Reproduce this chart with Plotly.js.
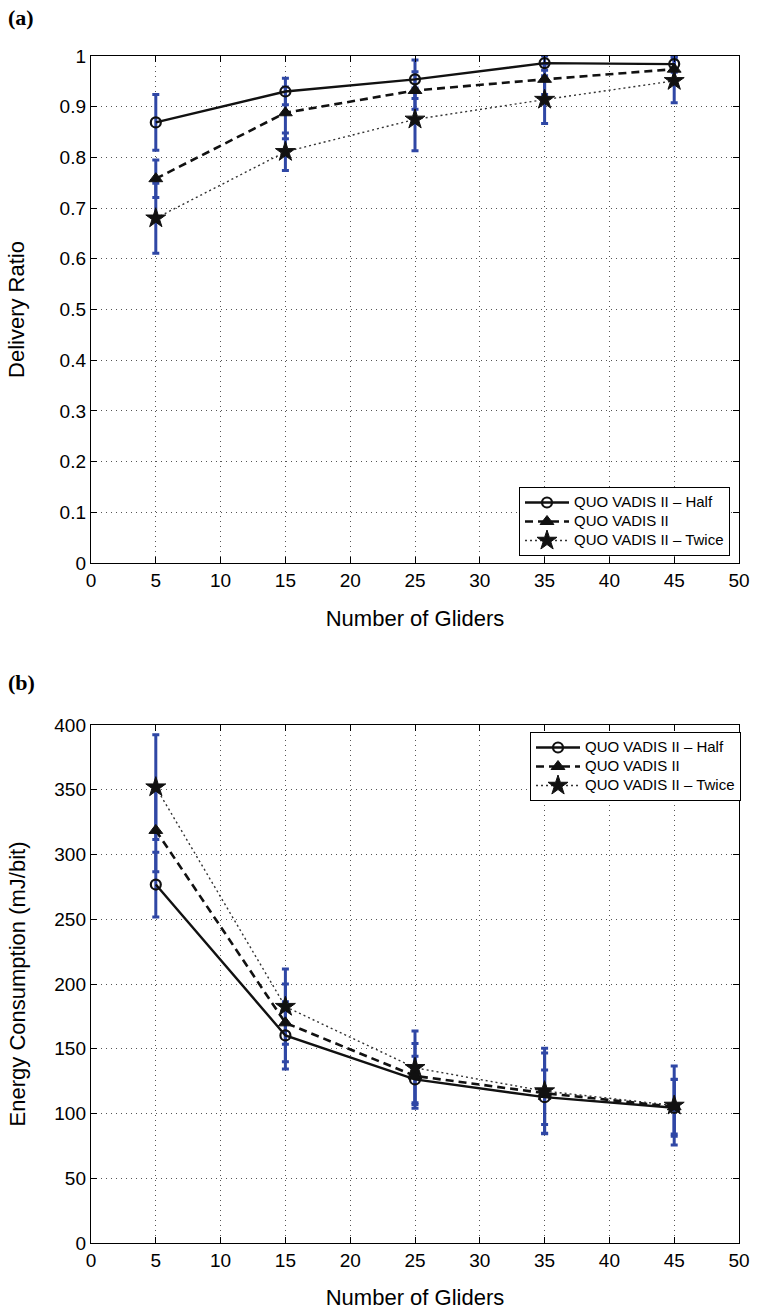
<!DOCTYPE html>
<html>
<head>
<meta charset="utf-8">
<script src="https://cdn.plot.ly/plotly-3.0.1.min.js"></script>
<style>html,body{margin:0;padding:0;background:#fff;}#chart{width:764px;height:1310px;}</style>
</head>
<body>
<div id="chart"></div>
<script>
// ---- data ----
const gliders = [5, 15, 25, 35, 45];
const seriesNames = ["QUO VADIS II \u2013 Half", "QUO VADIS II", "QUO VADIS II \u2013 Twice"];

// (a) Delivery ratio
const deliveryHalf = [0.869, 0.930, 0.954, 0.986, 0.984];
const deliveryNominal = [0.758, 0.888, 0.932, 0.954, 0.974];
const deliveryTwice = [0.680, 0.811, 0.875, 0.914, 0.951];
const deliveryHalfErr = [0.055, 0.026, 0.038, 0.014, 0.016];
const deliveryNominalErr = [0.037, 0.051, 0.037, 0.030, 0.025];
const deliveryTwiceErr = [0.069, 0.037, 0.062, 0.047, 0.043];

// (b) Energy consumption (mJ/bit)
const energyHalf = [276.8, 160.3, 126.3, 112.6, 104.4];
const energyNominal = [318.6, 170.0, 129.0, 115.7, 105.2];
const energyTwice = [352.0, 182.5, 135.3, 117.3, 106.2];
const energyHalfErr = [25.0, 26.0, 18.0, 21.0, 22.0];
const energyNominalErr = [32.0, 30.0, 25.0, 31.0, 21.0];
const energyTwiceErr = [40.5, 29.0, 28.4, 33.0, 30.5];

const xTicks = [0, 5, 10, 15, 20, 25, 30, 35, 40, 45, 50];
const yTicksA = [0, 0.1, 0.2, 0.3, 0.4, 0.5, 0.6, 0.7, 0.8, 0.9, 1];
const yTickTextA = ["0", "0.1", "0.2", "0.3", "0.4", "0.5", "0.6", "0.7", "0.8", "0.9", "1"];
const yTicksB = [0, 50, 100, 150, 200, 250, 300, 350, 400];

// ---- styling ----
const W = 764, H = 1310;
const FONT = "Liberation Sans, Arial, Helvetica, sans-serif";
const BLUE = "#2f47a5";
const styles = [
  {line: {color: "#111", width: 2.4, dash: "solid"}, marker: {symbol: "circle-open", size: 10, color: "#111", line: {width: 2.2, color: "#111"}}},
  {line: {color: "#111", width: 2.6, dash: "8px,5px"}, marker: {symbol: "triangle-up", size: 12, color: "#111", line: {width: 1, color: "#111"}}},
  {line: {color: "#333", width: 1.4, dash: "2px,3px"}, marker: {symbol: "star", size: 15, color: "#111", line: {width: 1, color: "#111"}}}
];

function errTrace(x, y, e, xa, ya) {
  return {
    x: x, y: y, xaxis: xa, yaxis: ya, type: "scatter", mode: "markers",
    marker: {size: 1, color: "rgba(0,0,0,0)"}, showlegend: false, hoverinfo: "skip",
    error_y: {type: "data", array: e, visible: true, color: BLUE, thickness: 3, width: 3.5}
  };
}
function lineTrace(x, y, i, xa, ya, leg) {
  return {
    x: x, y: y, xaxis: xa, yaxis: ya, type: "scatter", mode: "lines+markers",
    name: '<span style="font-size:15px">' + seriesNames[i] + '</span>',
    legend: leg, line: styles[i].line, marker: styles[i].marker
  };
}

const data = [
  errTrace(gliders, deliveryHalf, deliveryHalfErr, "x", "y"),
  errTrace(gliders, deliveryNominal, deliveryNominalErr, "x", "y"),
  errTrace(gliders, deliveryTwice, deliveryTwiceErr, "x", "y"),
  lineTrace(gliders, deliveryHalf, 0, "x", "y", "legend"),
  lineTrace(gliders, deliveryNominal, 1, "x", "y", "legend"),
  lineTrace(gliders, deliveryTwice, 2, "x", "y", "legend"),
  errTrace(gliders, energyHalf, energyHalfErr, "x2", "y2"),
  errTrace(gliders, energyNominal, energyNominalErr, "x2", "y2"),
  errTrace(gliders, energyTwice, energyTwiceErr, "x2", "y2"),
  lineTrace(gliders, energyHalf, 0, "x2", "y2", "legend2"),
  lineTrace(gliders, energyNominal, 1, "x2", "y2", "legend2"),
  lineTrace(gliders, energyTwice, 2, "x2", "y2", "legend2")
];

const px = v => v / W, py = v => 1 - v / H;
function xaxisDef(anchor) {
  return {
    domain: [px(91), px(739)], anchor: anchor, range: [0, 50], tickvals: xTicks,
    showline: true, linecolor: "#000", linewidth: 1.2, mirror: "ticks",
    ticks: "inside", ticklen: 6, tickcolor: "#000", tickwidth: 1,
    showgrid: true, gridcolor: "#555", griddash: "1px,4px", gridwidth: 1, zeroline: false,
    tickfont: {family: FONT, size: 19, color: "#000"},
    title: {text: "Number of Gliders", font: {family: FONT, size: 22, color: "#000"}, standoff: 20}
  };
}
function yaxisDef(anchor, dom, rng, tv, tt, title, so) {
  const a = {
    domain: dom, anchor: anchor, range: rng, tickvals: tv,
    showline: true, linecolor: "#000", linewidth: 1.2, mirror: "ticks",
    ticks: "inside", ticklen: 6, tickcolor: "#000", tickwidth: 1,
    showgrid: true, gridcolor: "#555", griddash: "1px,4px", gridwidth: 1, zeroline: false,
    tickfont: {family: FONT, size: 19, color: "#000"},
    title: {text: title, font: {family: FONT, size: 22, color: "#000"}, standoff: so}
  };
  if (tt) a.ticktext = tt;
  return a;
}

const legendBase = {
  bgcolor: "#fff", bordercolor: "#000", borderwidth: 1,
  font: {family: FONT, size: 11, color: "#000"}, itemwidth: 44,
  xanchor: "right", tracegroupgap: 0
};

const layout = {
  width: W, height: H, margin: {l: 0, r: 0, t: 0, b: 0},
  paper_bgcolor: "#fff", plot_bgcolor: "#fff", showlegend: true,
  xaxis: xaxisDef("y"),
  yaxis: yaxisDef("x", [py(563), py(56)], [0, 1], yTicksA, yTickTextA, "Delivery Ratio", 28),
  xaxis2: xaxisDef("y2"),
  yaxis2: yaxisDef("x2", [py(1243), py(725)], [0, 400], yTicksB, null, "Energy Consumption (mJ/bit)", 22),
  legend: Object.assign({}, legendBase, {x: px(730), y: py(556), yanchor: "bottom"}),
  legend2: Object.assign({}, legendBase, {x: px(741), y: py(732), yanchor: "top"}),
  annotations: [
    {text: "<b>(a)</b>", xref: "paper", yref: "paper", x: px(6), y: py(18), xanchor: "left", yanchor: "middle", showarrow: false, font: {family: "Liberation Serif, Times New Roman, serif", size: 22, color: "#000"}},
    {text: "<b>(b)</b>", xref: "paper", yref: "paper", x: px(6), y: py(682), xanchor: "left", yanchor: "middle", showarrow: false, font: {family: "Liberation Serif, Times New Roman, serif", size: 22, color: "#000"}}
  ]
};

Plotly.newPlot("chart", data, layout, {staticPlot: true, displayModeBar: false});
</script>
</body>
</html>
